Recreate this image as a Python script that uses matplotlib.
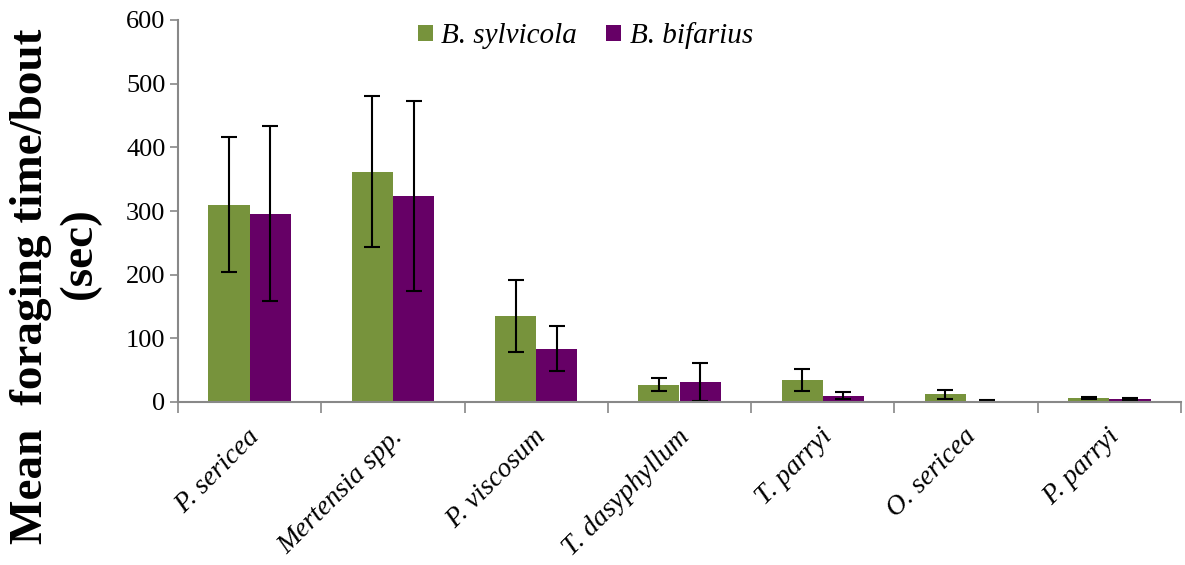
import glob

import matplotlib.pyplot as plt
import numpy as np
from matplotlib.font_manager import FontProperties

plants = ["P. sericea", "Mertensia spp.", "P. viscosum", "T. dasyphyllum",
          "T. parryi", "O. sericea", "P. parryi"]
sylvicola_mean = [310, 362, 135, 27, 35, 12, 6]
sylvicola_err = [106, 118, 57, 10, 17, 7, 2]
bifarius_mean = [296, 323, 84, 32, 10, 2, 4]
bifarius_err = [138, 149, 36, 30, 5, 1, 1.5]

green = "#77933C"
purple = "#660066"
axis_gray = "#888888"


def serif_font(variant, size):
    # load the Liberation Serif file directly so bold/italic cannot fall back to sans
    files = glob.glob(f"/usr/share/fonts/**/LiberationSerif-{variant}.ttf", recursive=True)
    if files:
        return FontProperties(fname=files[0], size=size)
    style = "italic" if "Italic" in variant else "normal"
    weight = "bold" if "Bold" in variant else "normal"
    return FontProperties(family=["Liberation Serif", "DejaVu Serif"],
                          style=style, weight=weight, size=size)


plt.rcParams["font.family"] = ["Liberation Serif", "DejaVu Serif"]

fig = plt.figure(figsize=(11.85, 5.65), dpi=100)
ax = fig.add_axes([178 / 1185, 1 - 402 / 565, 1003 / 1185, 382 / 565])

x = np.arange(len(plants))
w = 0.288
err_kw = dict(ecolor="black", elinewidth=1.5, capsize=6, capthick=1.5)
ax.bar(x - w / 2, sylvicola_mean, w, yerr=sylvicola_err, color=green,
       label="B. sylvicola", error_kw=err_kw, zorder=2)
ax.bar(x + w / 2, bifarius_mean, w, yerr=bifarius_err, color=purple,
       label="B. bifarius", error_kw=err_kw, zorder=2)

ax.set_xlim(-0.5, len(plants) - 0.5)
ax.set_ylim(0, 600)
ax.set_yticks(range(0, 601, 100))
ax.tick_params(axis="y", direction="out", length=6,
               color=axis_gray, width=1.2, pad=3)
tick_font = serif_font("Regular", 19)
for lbl in ax.get_yticklabels():
    lbl.set_fontproperties(tick_font)

ax.set_xticks(np.arange(len(plants) + 1) - 0.5)
ax.set_xticklabels([])
ax.set_xticks(x - 0.02, minor=True)
ax.set_xticklabels(plants, minor=True, rotation=45, ha="right",
                   rotation_mode="anchor",
                   fontproperties=serif_font("Italic", 20))
ax.tick_params(axis="x", which="major", direction="out", length=8,
               color=axis_gray, width=1.2)
ax.tick_params(axis="x", which="minor", length=0, pad=16)

for side in ["top", "right"]:
    ax.spines[side].set_visible(False)
for side in ["left", "bottom"]:
    ax.spines[side].set_color(axis_gray)
    ax.spines[side].set_linewidth(1.5)

ylabel_font = serif_font("Bold", 34)
fig.text(31 / 1185, 1 - 286 / 565, "Mean  foraging time/bout",
         rotation=90, ha="center", va="center", fontproperties=ylabel_font)
fig.text(80 / 1185, 1 - 253 / 565, "(sec)",
         rotation=90, ha="center", va="center", fontproperties=ylabel_font)

fig.legend(loc="center left", bbox_to_anchor=(418 / 1185, 1 - 36 / 565),
           ncol=2, frameon=False, prop=serif_font("Italic", 21),
           borderpad=0, borderaxespad=0, handlelength=0.5, handleheight=0.5,
           handletextpad=0.3, columnspacing=1.0)

fig.savefig("out.png", dpi=100)
